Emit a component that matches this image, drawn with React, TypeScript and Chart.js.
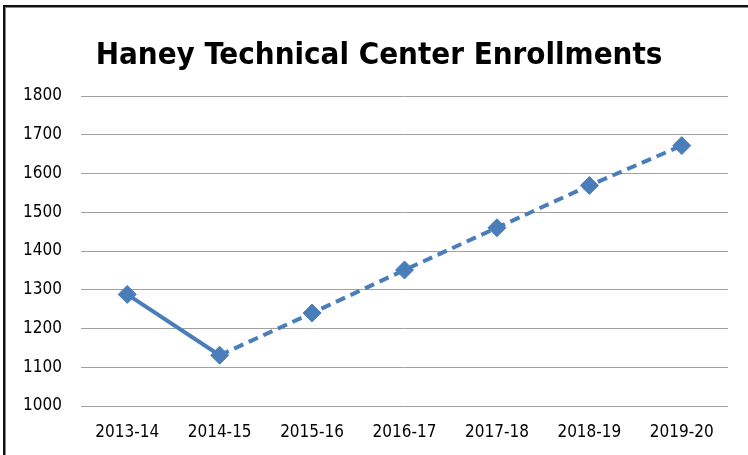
import React, { useEffect, useRef } from "react";
import { Chart, registerables } from "chart.js";

Chart.register(...registerables);

const categories = ["2013-14", "2014-15", "2015-16", "2016-17", "2017-18", "2018-19", "2019-20"];
const enrollments = [1288, 1131, 1240, 1351, 1460, 1569, 1672];
const yMin = 1000;
const yMax = 1800;
const yStep = 100;
const titleText = "Haney Technical Center Enrollments";

const FONT = "'Liberation Sans Narrow', 'DejaVu Sans Condensed', 'Liberation Sans', sans-serif";

const titlePlugin = {
  id: "customTitle",
  afterDraw(chart: any) {
    const ctx = chart.ctx;
    ctx.save();
    ctx.font = `bold 31px ${FONT}`;
    ctx.fillStyle = "#000";
    ctx.textAlign = "center";
    ctx.textBaseline = "alphabetic";
    ctx.fillText(titleText, 379, 64);
    ctx.restore();
  },
};

export default function App() {
  const ref = useRef<HTMLCanvasElement>(null);
  useEffect(() => {
    document.body.style.margin = "0";
    const chart = new Chart(ref.current!, {
      type: "line",
      data: {
        labels: categories,
        datasets: [
          {
            data: enrollments,
            borderColor: "#4A7EBB",
            backgroundColor: "#4A7EBB",
            borderWidth: 4,
            pointStyle: "rectRot",
            pointRadius: 9,
            pointHoverRadius: 9,
            pointBorderWidth: 1,
            tension: 0,
            segment: {
              borderDash: (ctx: any) => (ctx.p0DataIndex >= 1 ? [10, 6] : undefined),
            },
          },
        ],
      },
      options: {
        animation: false,
        responsive: false,
        layout: { padding: { top: 96, right: 20, bottom: 0, left: 0 } },
        plugins: { legend: { display: false }, tooltip: { enabled: false }, title: { display: false } },
        scales: {
          x: {
            offset: true,
            grid: { display: false, drawTicks: false },
            border: { display: false },
            ticks: { color: "#000", font: { family: FONT, size: 17 }, padding: 16, maxRotation: 0 },
            afterFit: (s: any) => {
              s.height = 49;
            },
          },
          y: {
            min: yMin,
            max: yMax,
            grid: { color: "#A0A0A0", lineWidth: 1, drawTicks: false },
            border: { display: false },
            ticks: {
              stepSize: yStep,
              color: "#000",
              font: { family: FONT, size: 17 },
              padding: 19,
              callback: (v: any) => String(v),
            },
            afterFit: (s: any) => {
              s.width = 81;
            },
          },
        },
      },
      plugins: [titlePlugin],
    });
    return () => chart.destroy();
  }, []);
  return (
    <div style={{ position: "relative", width: 748, height: 455, overflow: "hidden", background: "#fff" }}>
      <canvas ref={ref} width={748} height={455} style={{ position: "absolute", left: 0, top: 0 }} />
      <div
        style={{
          position: "absolute",
          left: 3,
          top: 5,
          width: 760,
          height: 470,
          borderTop: "2px solid #111",
          borderLeft: "2px solid #111",
          boxShadow: "inset 1px 1px 0 #888",
          pointerEvents: "none",
        }}
      />
    </div>
  );
}
